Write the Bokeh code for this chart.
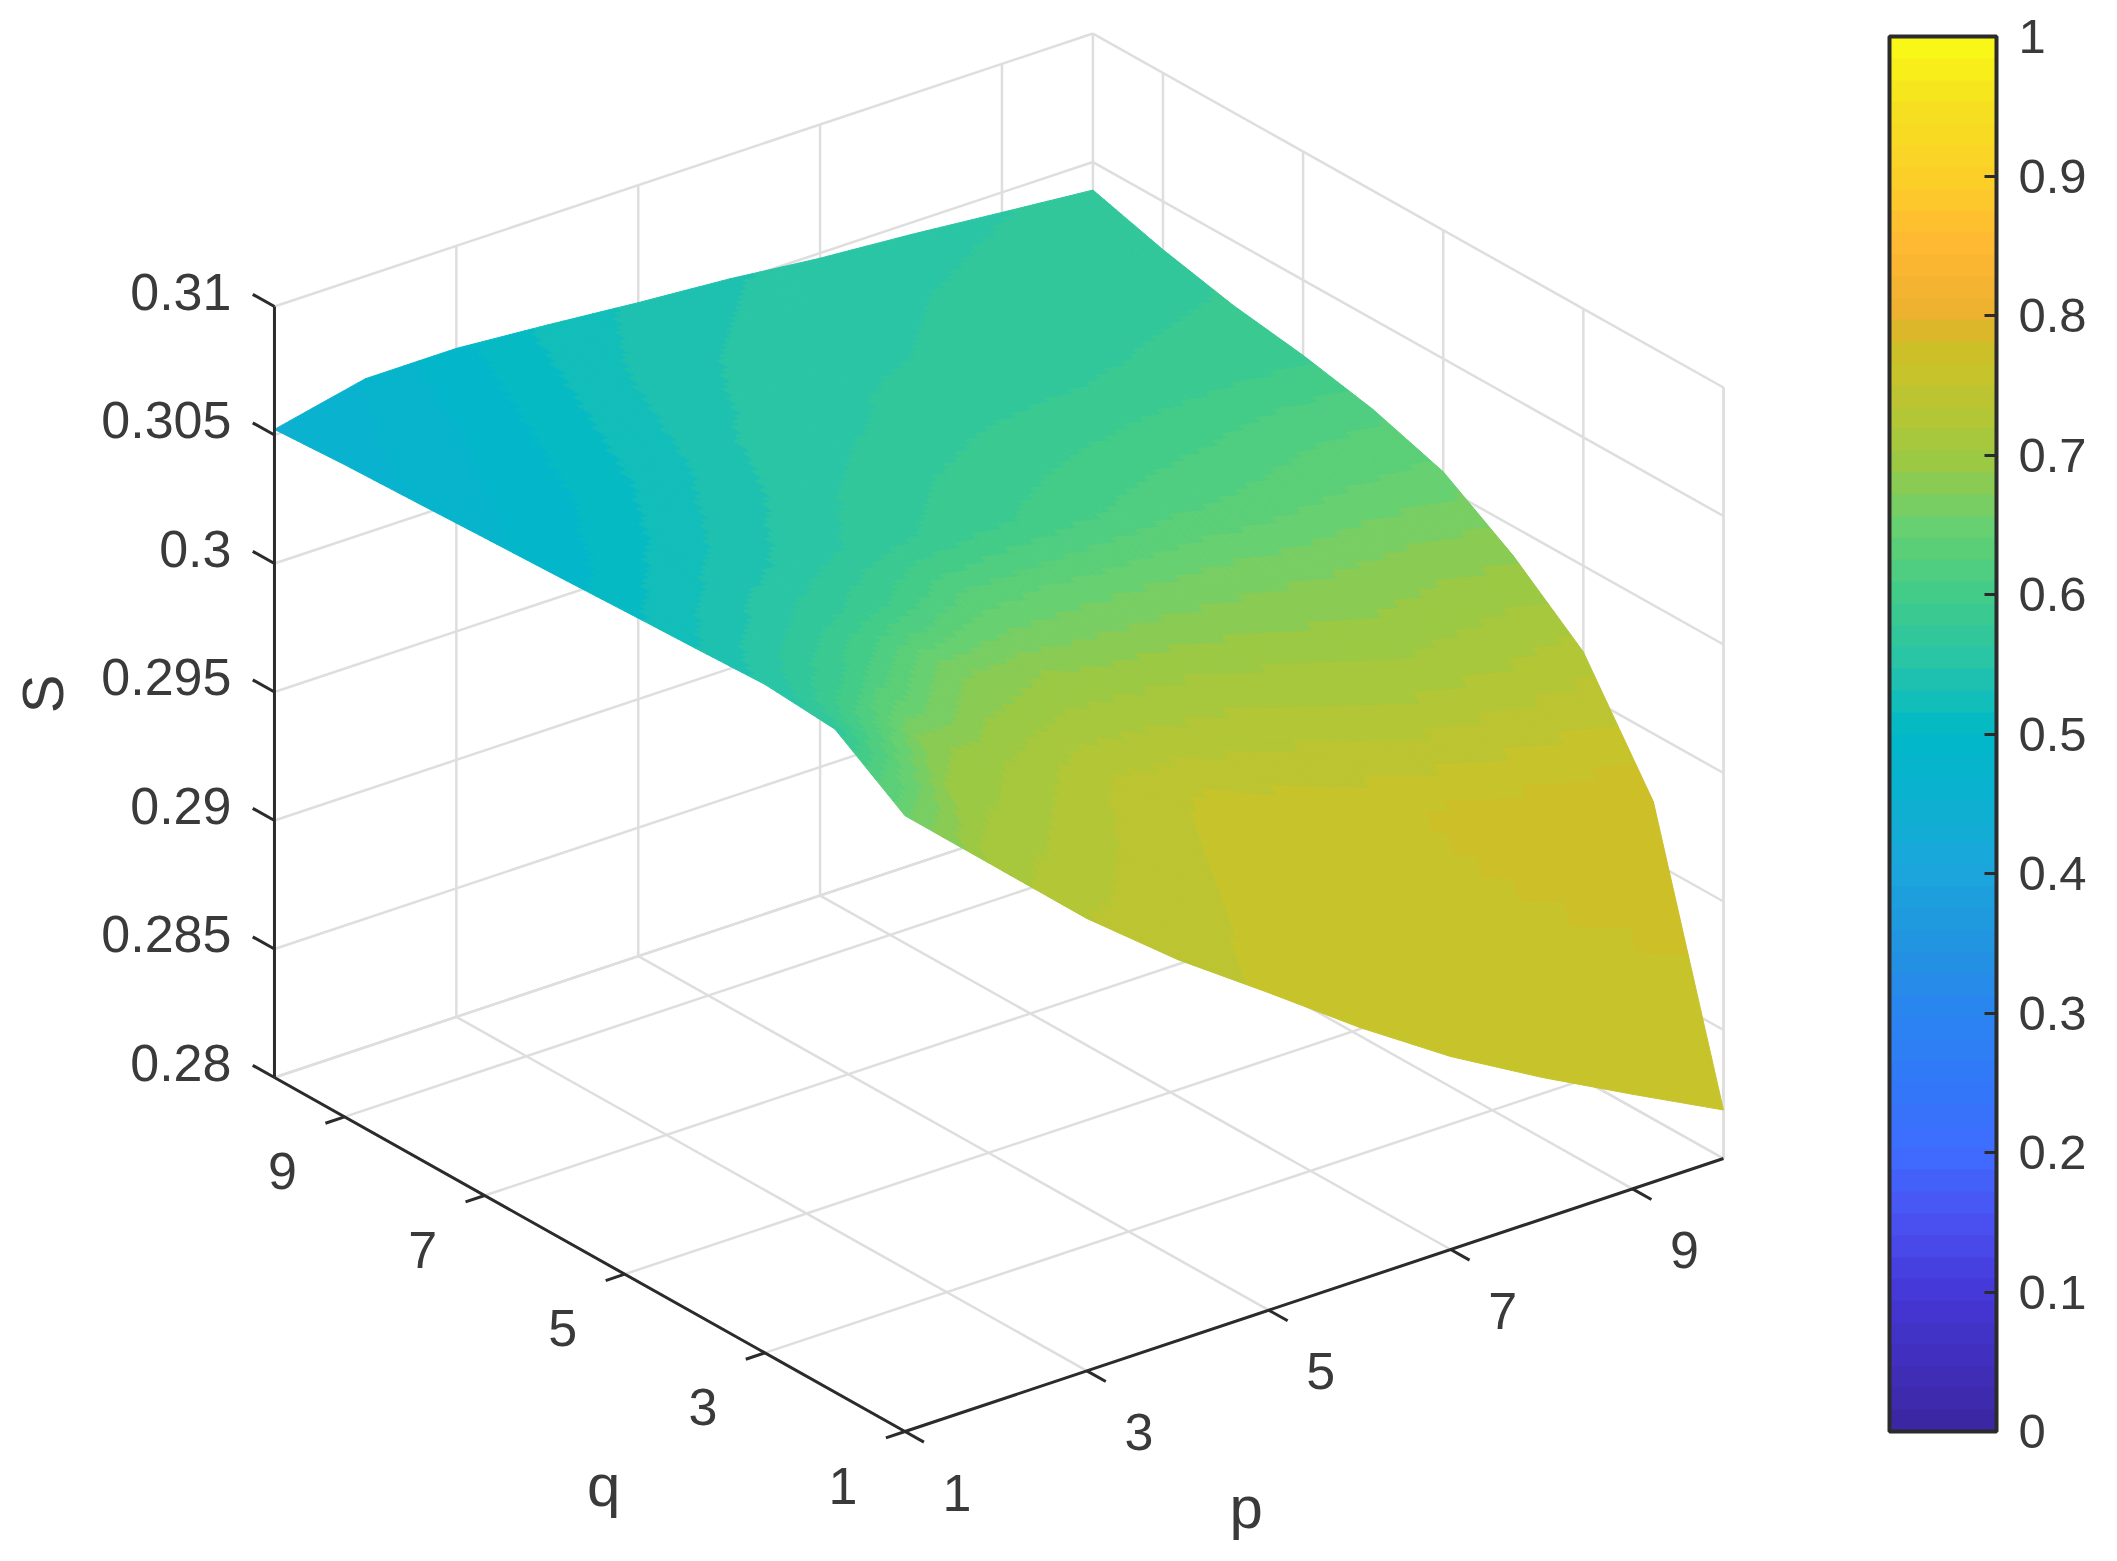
import numpy as np
from bokeh.plotting import figure
from bokeh.models import ColorBar, LinearColorMapper, FixedTicker, Range1d
from bokeh.core.properties import value
from bokeh.embed import file_html
from bokeh.resources import INLINE

# ---- data -------------------------------------------------------------
p_values = [1, 2, 3, 4, 5, 6, 7, 8, 9, 10]
q_values = [1, 2, 3, 4, 5, 6, 7, 8, 9, 10]
p_ticks = [1, 3, 5, 7, 9]
q_ticks = [1, 3, 5, 7, 9]
s_ticks = [0.28, 0.285, 0.29, 0.295, 0.3, 0.305, 0.31]
s_tick_labels = ["0.28", "0.285", "0.29", "0.295", "0.3", "0.305", "0.31"]
cbar_ticks = [0, 0.1, 0.2, 0.3, 0.4, 0.5, 0.6, 0.7, 0.8, 0.9, 1]
cbar_labels = {"0": "0", "0.1": "0.1", "0.2": "0.2", "0.3": "0.3", "0.4": "0.4", "0.5": "0.5",
               "0.6": "0.6", "0.7": "0.7", "0.8": "0.8", "0.9": "0.9", "1": "1"}

# S[q index][p index]
S_q1 = [.30396, .30078, .29760, .29482, .29235, .28982, .28751, .28552, .28368, .28189]
S_q2 = [.30580, .30417, .30207, .30023, .29839, .29681, .29550, .29429, .29324, .29235]
S_q3 = [.30601, .30538, .30417, .30301, .30165, .30049, .29944, .29839, .29750, .29665]
S_q4 = [.30590, .30564, .30511, .30427, .30343, .30249, .30154, .30065, .29970, .29886]
S_q5 = [.30580, .30574, .30548, .30501, .30443, .30364, .30275, .30191, .30123, .30060]
S_q6 = [.30569, .30580, .30564, .30532, .30490, .30433, .30359, .30275, .30207, .30149]
S_q7 = [.30559, .30580, .30574, .30548, .30511, .30469, .30406, .30338, .30270, .30207]
S_q8 = [.30548, .30585, .30585, .30559, .30527, .30490, .30448, .30391, .30322, .30249]
S_q9 = [.30538, .30590, .30595, .30569, .30538, .30506, .30469, .30433, .30375, .30312]
S_q10 = [.30522, .30601, .30601, .30574, .30543, .30517, .30480, .30454, .30422, .30391]

# colour value C[q index][p index]
C_q1 = [.655, .71, .735, .745, .752, .752, .752, .752, .752, .752]
C_q2 = [.57, .68, .705, .735, .752, .757, .762, .77, .775, .78]
C_q3 = [.55, .60, .665, .685, .695, .705, .705, .705, .715, .725]
C_q4 = [.53, .56, .59, .63, .645, .655, .665, .67, .68, .685]
C_q5 = [.51, .535, .555, .575, .59, .605, .62, .63, .64, .645]
C_q6 = [.49, .515, .54, .56, .575, .585, .595, .605, .615, .62]
C_q7 = [.48, .50, .525, .55, .56, .57, .575, .58, .585, .59]
C_q8 = [.47, .49, .515, .54, .555, .56, .565, .57, .575, .58]
C_q9 = [.46, .48, .505, .53, .545, .555, .56, .565, .57, .572]
C_q10 = [.45, .47, .495, .52, .535, .545, .55, .557, .562, .565]

S = np.array([S_q1, S_q2, S_q3, S_q4, S_q5, S_q6, S_q7, S_q8, S_q9, S_q10])
C = np.array([C_q1, C_q2, C_q3, C_q4, C_q5, C_q6, C_q7, C_q8, C_q9, C_q10])

# ---- colormap (64 levels) ----------------------------------------------
stops_v = [0, .1, .15, .2, .25, .3, .35, .4, .45, .5, .55, .6, .65, .7, .76, .78, .8, .85, .9, .95, 1]
stops_c = ["#3a26a0", "#4638d8", "#4a50f0", "#3f6cff", "#3278f8", "#2a85f0", "#2294e0", "#1ca5dc",
           "#0cb0d0", "#00b8c8", "#26c4a8", "#42cc88", "#68d070", "#a0c840", "#c8c42a", "#d0bc25",
           "#ecb030", "#ffb832", "#fcd028", "#f5e020", "#f9fb15"]
rgb = np.array([[int(c[i:i + 2], 16) for i in (1, 3, 5)] for c in stops_c], dtype=float)
lv = (np.arange(64) + .5) / 64
palette = ["#%02x%02x%02x" % tuple(int(round(np.interp(v, stops_v, rgb[:, k]))) for k in range(3)) for v in lv]


def colour(c):
    return palette[min(63, max(0, int(c * 64)))]


# ---- orthographic projection of the 3-D box to page pixels -------------
ORIGIN = np.array([904.5, 1431.0])
P_UNIT = np.array([90.94, -30.33])
Q_UNIT = np.array([-70.06, -39.33])
S_SCALE = 25700.0
S_MIN = 0.28


def proj(p, q, s):
    x = ORIGIN[0] + (p - 1) * P_UNIT[0] + (q - 1) * Q_UNIT[0]
    y = ORIGIN[1] + (p - 1) * P_UNIT[1] + (q - 1) * Q_UNIT[1] - (s - S_MIN) * S_SCALE
    return x, y


W, H = 2101, 1545
fig = figure(width=W, height=H, x_range=Range1d(0, W), y_range=Range1d(H, 0),
             output_backend="svg", toolbar_location=None, min_border=0,
             x_axis_location=None, y_axis_location=None, outline_line_color=None)
fig.grid.visible = False
fig.background_fill_color = "white"

GRID = "#dedede"
AXIS = "#2b2b2b"
TXT = "#3a3a3a"
FONT = value("Liberation Sans")
p0, p1 = p_values[0], p_values[-1]
q0, q1 = q_values[0], q_values[-1]
s0, s1 = s_ticks[0], s_ticks[-1]


def seg(store, a, b):
    xa, ya = proj(*a)
    xb, yb = proj(*b)
    store[0].append(xa); store[1].append(ya); store[2].append(xb); store[3].append(yb)


grid = ([], [], [], [])
for pt in p_ticks:
    seg(grid, (pt, q0, s0), (pt, q1, s0))
    seg(grid, (pt, q1, s0), (pt, q1, s1))
for qt in q_ticks:
    seg(grid, (p0, qt, s0), (p1, qt, s0))
    seg(grid, (p1, qt, s0), (p1, qt, s1))
seg(grid, (p1, q1, s0), (p1, q1, s1))
seg(grid, (p1, q0, s0), (p1, q0, s1))
seg(grid, (p0, q1, s0), (p1, q1, s0))
seg(grid, (p1, q0, s0), (p1, q1, s0))
for st in s_ticks:
    seg(grid, (p0, q1, st), (p1, q1, st))
    seg(grid, (p1, q1, st), (p1, q0, st))
fig.segment(grid[0], grid[1], grid[2], grid[3], line_color=GRID, line_width=2.5)

# ---- surface: each grid cell shaded with a 64-level colormap -----------
N = 12
xs, ys, cs = [], [], []
for qi in range(len(q_values) - 2, -1, -1):
    for pi in range(len(p_values) - 2, -1, -1):
        for a in range(N - 1, -1, -1):
            for b in range(N - 1, -1, -1):
                u0, u1 = b / N, (b + 1) / N
                v0, v1 = a / N, (a + 1) / N
                corners = [(u0, v0), (u1, v0), (u1, v1), (u0, v1)]
                qx, qy = [], []
                for u, v in corners:
                    sv = (S[qi, pi] * (1 - u) * (1 - v) + S[qi, pi + 1] * u * (1 - v)
                          + S[qi + 1, pi] * (1 - u) * v + S[qi + 1, pi + 1] * u * v)
                    x, y = proj(p_values[pi] + u, q_values[qi] + v, sv)
                    qx.append(x); qy.append(y)
                um, vm = (u0 + u1) / 2, (v0 + v1) / 2
                cv = (C[qi, pi] * (1 - um) * (1 - vm) + C[qi, pi + 1] * um * (1 - vm)
                      + C[qi + 1, pi] * (1 - um) * vm + C[qi + 1, pi + 1] * um * vm)
                xs.append(qx); ys.append(qy); cs.append(colour(cv))
fig.patches(xs, ys, fill_color=cs, line_color=cs, line_width=1)

# ---- axes ---------------------------------------------------------------
axis = ([], [], [], [])
seg(axis, (p0, q0, s0), (p1, q0, s0))
seg(axis, (p0, q0, s0), (p0, q1, s0))
seg(axis, (p0, q1, s0), (p0, q1, s1))
for pt in p_ticks:
    seg(axis, (pt, q0, s0), (pt, q0 - 0.27, s0))
for qt in q_ticks:
    seg(axis, (p0, qt, s0), (p0 - 0.21, qt, s0))
for st in s_ticks:
    seg(axis, (p0, q1, st), (p0, q1 + 0.31, st))
fig.segment(axis[0], axis[1], axis[2], axis[3], line_color=AXIS, line_width=3)

FS = "52px"
tx, ty = zip(*[proj(p0, q1, st) for st in s_ticks])
fig.text([x - 43 for x in tx], [y - 15 for y in ty], text=s_tick_labels, text_align="right",
         text_baseline="middle", text_font=FONT, text_font_size=FS, text_color=TXT)
tx, ty = zip(*[proj(p0, qt, s0) for qt in q_ticks])
fig.text([x - 62 for x in tx], [y + 54 for y in ty], text=[str(v) for v in q_ticks], text_align="center",
         text_baseline="middle", text_font=FONT, text_font_size=FS, text_color=TXT)
tx, ty = zip(*[proj(pt, q0, s0) for pt in p_ticks])
fig.text([x + 52 for x in tx], [y + 61 for y in ty], text=[str(v) for v in p_ticks], text_align="center",
         text_baseline="middle", text_font=FONT, text_font_size=FS, text_color=TXT)

qx, qy = proj(p0, 5.5, s0)
fig.text([qx + 14], [qy + 231], text=["q"], text_align="center", text_baseline="middle",
         text_font=FONT, text_font_size="60px", text_color=TXT)
px, py = proj(5.5, q0, s0)
fig.text([px - 68], [py + 212], text=["p"], text_align="center", text_baseline="middle",
         text_font=FONT, text_font_size="60px", text_color=TXT)
sx, sy = proj(p0, q1, 0.295)
fig.text([sx - 232], [sy + 2], text=["S"], angle=[np.pi / 2], text_align="center", text_baseline="middle",
         text_font=FONT, text_font_size="58px", text_color=TXT)

# ---- colour bar -----------------------------------------------------------
mapper = LinearColorMapper(palette=palette, low=0, high=1)
bar = ColorBar(color_mapper=mapper, ticker=FixedTicker(ticks=cbar_ticks), major_label_overrides=cbar_labels,
               width=107, height=1395, location=(1889, H - 1431), padding=0, margin=0,
               bar_line_color=AXIS, bar_line_width=4, major_tick_line_color=AXIS, major_tick_line_width=3,
               major_tick_in=12, major_tick_out=0, minor_tick_line_color=None, label_standoff=22,
               major_label_text_font="Liberation Sans", major_label_text_font_size="49px",
               major_label_text_color=TXT, background_fill_color=None, border_line_color=None)
fig.add_layout(bar, "center")

open("out.html", "w").write(file_html(fig, INLINE))
